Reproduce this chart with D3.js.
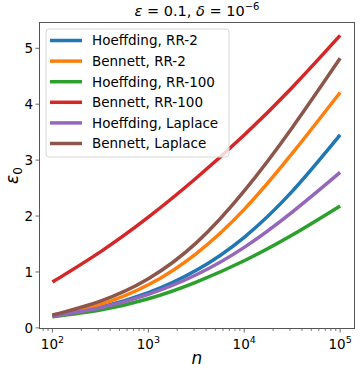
<!DOCTYPE html>
<html>
<head>
<meta charset="utf-8">
<script src="https://cdn.jsdelivr.net/npm/d3@7"></script>
<style>
  body { margin: 0; background: #fff; }
  text { font-family: "DejaVu Sans", sans-serif; fill: #000; }
</style>
</head>
<body>
<div id="chart"></div>
<script>
// sample points along n (log spaced, half decades)
var nValues = [1e2, 316.2, 1e3, 3162, 1e4, 31623, 1e5];

// eps0 for each curve
var hoeffdingRR2 = [0.21, 0.37, 0.63, 1.03, 1.62, 2.44, 3.45];
var bennettRR2 = [0.22, 0.42, 0.77, 1.33, 2.12, 3.12, 4.21];
var hoeffdingRR100 = [0.20, 0.32, 0.52, 0.82, 1.20, 1.66, 2.18];
var bennettRR100 = [0.82, 1.36, 1.98, 2.68, 3.45, 4.30, 5.23];
var hoeffdingLaplace = [0.21, 0.36, 0.60, 0.95, 1.44, 2.07, 2.78];
var bennettLaplace = [0.23, 0.48, 0.88, 1.52, 2.45, 3.58, 4.82];

var seriesNames = ['Hoeffding, RR-2', 'Bennett, RR-2', 'Hoeffding, RR-100',
  'Bennett, RR-100', 'Hoeffding, Laplace', 'Bennett, Laplace'];
var seriesValues = [hoeffdingRR2, bennettRR2, hoeffdingRR100,
  bennettRR100, hoeffdingLaplace, bennettLaplace];
var colors = ['#1f77b4', '#ff7f0e', '#2ca02c', '#d62728', '#9467bd', '#8c564b'];

var yTicks = [0, 1, 2, 3, 4, 5];
var xTicks = [1e2, 1e3, 1e4, 1e5];

var width = 363;
var height = 374;
var margin = {left: 39, top: 22, right: 8, bottom: 45};

var svg = d3.select('#chart').append('svg')
  .attr('width', width)
  .attr('height', height);

// x axis is log, padded like matplotlib margins
var x = d3.scaleLog()
  .domain([Math.pow(10, 1.86), Math.pow(10, 5.155)])
  .range([margin.left, width - margin.right]);

var y = d3.scaleLinear()
  .domain([-0.02, 5.47])
  .range([height - margin.bottom, margin.top]);

var line = d3.line()
  .x(function(d) { return x(d[0]); })
  .y(function(d) { return y(d[1]); })
  .curve(d3.curveNatural);

// curves
seriesValues.forEach(function(vals, i) {
  var pts = nValues.map(function(n, j) { return [n, vals[j]]; });
  svg.append('path')
    .datum(pts)
    .attr('d', line)
    .attr('fill', 'none')
    .attr('stroke', colors[i])
    .attr('stroke-width', 3.5);
});

// x axis with minor log ticks
var minor = [];
for (var e = 1; e <= 5; e++) {
  for (var k = 2; k < 10; k++) {
    var v = k * Math.pow(10, e);
    if (v >= x.domain()[0] && v <= x.domain()[1]) minor.push(v);
  }
}

var xAxis = svg.append('g')
  .attr('transform', 'translate(0,' + (height - margin.bottom) + ')');
xAxis.selectAll('line.minor').data(minor).enter().append('line')
  .attr('x1', function(d) { return x(d); })
  .attr('x2', function(d) { return x(d); })
  .attr('y1', 0).attr('y2', 2)
  .attr('stroke', '#444').attr('stroke-width', 0.7);
xAxis.selectAll('line.major').data(xTicks).enter().append('line')
  .attr('x1', function(d) { return x(d); })
  .attr('x2', function(d) { return x(d); })
  .attr('y1', 0).attr('y2', 3.5)
  .attr('stroke', '#444').attr('stroke-width', 0.8);
var xl = xAxis.selectAll('text').data(xTicks).enter().append('text')
  .attr('x', function(d) { return x(d); })
  .attr('y', 20)
  .attr('text-anchor', 'middle')
  .style('font-size', '13.5px');
xl.append('tspan').text('10');
xl.append('tspan')
  .attr('dy', -6)
  .style('font-size', '9.5px')
  .text(function(d) { return Math.round(Math.log10(d)); });

// y axis
var yAxis = svg.append('g')
  .attr('transform', 'translate(' + margin.left + ',0)');
yAxis.selectAll('line').data(yTicks).enter().append('line')
  .attr('x1', -3.5).attr('x2', 0)
  .attr('y1', function(d) { return y(d); })
  .attr('y2', function(d) { return y(d); })
  .attr('stroke', '#444').attr('stroke-width', 0.8);
yAxis.selectAll('text').data(yTicks).enter().append('text')
  .attr('x', -6)
  .attr('y', function(d) { return y(d); })
  .attr('dy', '0.36em')
  .attr('text-anchor', 'end')
  .style('font-size', '13.5px')
  .text(function(d) { return d; });

// frame
svg.append('rect')
  .attr('x', margin.left + 0.5)
  .attr('y', margin.top + 0.5)
  .attr('width', width - margin.left - margin.right - 1)
  .attr('height', height - margin.top - margin.bottom - 1)
  .attr('fill', 'none')
  .attr('stroke', '#555')
  .attr('stroke-width', 1);

// title (mathtext style, spaces round the equals signs)
var title = svg.append('text')
  .attr('x', (margin.left + width - margin.right) / 2)
  .attr('y', 16)
  .attr('text-anchor', 'middle')
  .style('font-size', '14.5px');
title.append('tspan').style('font-style', 'italic').text('\u03b5');
title.append('tspan').text(' = 0.1, ');
title.append('tspan').style('font-style', 'italic').text('\u03b4');
title.append('tspan').text(' = 10');
title.append('tspan').attr('dy', -6).style('font-size', '10px').text('\u22126');

// axis labels
svg.append('text')
  .attr('x', (margin.left + width - margin.right) / 2)
  .attr('y', 364)
  .attr('text-anchor', 'middle')
  .style('font-size', '17px')
  .style('font-style', 'italic')
  .text('n');

var yl = svg.append('text')
  .attr('transform', 'translate(18,' + ((margin.top + height - margin.bottom) / 2) + ') rotate(-90)')
  .attr('text-anchor', 'middle')
  .style('font-size', '17px');
yl.append('tspan').style('font-style', 'italic').text('\u03b5');
yl.append('tspan').attr('dy', 4).style('font-size', '12px').text('0');

// legend
var legend = svg.append('g').attr('transform', 'translate(46,29)');
legend.append('rect')
  .attr('width', 183)
  .attr('height', 128)
  .attr('rx', 3)
  .attr('fill', '#fff')
  .attr('fill-opacity', 0.8)
  .attr('stroke', '#d6d6d6')
  .attr('stroke-width', 1);
seriesNames.forEach(function(name, i) {
  var ly = 11.5 + i * 20.6;
  legend.append('line')
    .attr('x1', 4).attr('x2', 36)
    .attr('y1', ly).attr('y2', ly)
    .attr('stroke', colors[i])
    .attr('stroke-width', 3.5);
  legend.append('text')
    .attr('x', 46)
    .attr('y', ly)
    .attr('dy', '0.36em')
    .style('font-size', '13.5px')
    .text(name);
});
</script>
</body>
</html>
